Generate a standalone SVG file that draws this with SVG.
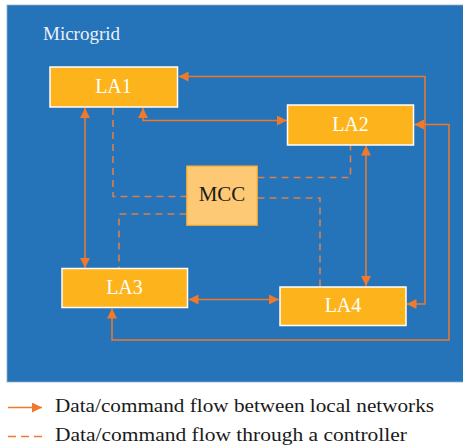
<svg xmlns="http://www.w3.org/2000/svg" width="463" height="447" viewBox="0 0 463 447">
<style>
.la{fill:#FDB41C;stroke:#FFFFFF;stroke-width:1.5}
.mcc{fill:#FEC974;stroke:#EEA832;stroke-width:1.2}
text{font-family:"Liberation Serif","Times New Roman","DejaVu Serif",serif}
.lt{font-size:20px;fill:#FFFFFF;text-anchor:middle}
.mt{font-size:21px;fill:#1A1A1A;text-anchor:middle}
.sol{fill:none;stroke:#F07A2C;stroke-width:1.5}
.das{fill:none;stroke:#D9804C;stroke-width:1.6;stroke-dasharray:7,5}
.leg{font-size:19px;fill:#1A1A1A}
</style>
<defs>
<marker id="ah" viewBox="0 0 10 10" refX="10" refY="5" markerWidth="10" markerHeight="10" markerUnits="userSpaceOnUse" orient="auto-start-reverse">
<path d="M0,0 L10,5 L0,10 z" fill="#F07A2C"/>
</marker>
</defs>
<rect x="0" y="0" width="463" height="447" fill="#FFFFFF"/>
<rect id="microgrid" x="7" y="5" width="457" height="377" fill="#2573B8" stroke="#8FB0D0" stroke-width="0.8"/>
<text x="43" y="40" font-size="19" fill="#EAF1F8">Microgrid</text>
<g id="connectors">
<path class="sol" d="M85,108 V268" marker-start="url(#ah)" marker-end="url(#ah)"/>
<path class="sol" d="M143,108 V120.5 H287" marker-start="url(#ah)" marker-end="url(#ah)"/>
<path class="sol" d="M366,145.5 V286" marker-start="url(#ah)" marker-end="url(#ah)"/>
<path class="sol" d="M188.5,299.5 H279" marker-start="url(#ah)" marker-end="url(#ah)"/>
<path class="sol" d="M178.5,76.5 H425 V304 H406.5" marker-start="url(#ah)" marker-end="url(#ah)"/>
<path class="sol" d="M414,124.5 H449 V340 H112 V308.5" marker-start="url(#ah)" marker-end="url(#ah)"/>
<path class="das" d="M113,108 V196.5 H186.5"/>
<path class="das" d="M257.5,177.5 H350.5 V145.5"/>
<path class="das" d="M257.5,198 H320 V286.5"/>
<path class="das" d="M186.5,214 H119 V268.5"/>
</g>
<g id="LA1"><rect class="la" x="50" y="67" width="127.5" height="40"/><text class="lt" x="113.5" y="92.5">LA1</text></g>
<g id="LA2"><rect class="la" x="287.5" y="105" width="126" height="40"/><text class="lt" x="350.5" y="130.5">LA2</text></g>
<g id="MCC"><rect class="mcc" x="186.7" y="166" width="70.6" height="59.3"/><text class="mt" x="222" y="201">MCC</text></g>
<g id="LA3"><rect class="la" x="62" y="268.5" width="125.5" height="39"/><text class="lt" x="124.5" y="294">LA3</text></g>
<g id="LA4"><rect class="la" x="280" y="287" width="126" height="38.5"/><text class="lt" x="343" y="312">LA4</text></g>
<g id="legend">
<path class="sol" d="M8,407.5 H42" marker-end="url(#ah)"/>
<text class="leg" x="55" y="412" textLength="379" lengthAdjust="spacingAndGlyphs">Data/command flow between local networks</text>
<path d="M8,436.5 H43" fill="none" stroke="#F07A2C" stroke-width="1.5" stroke-dasharray="8,5"/>
<text class="leg" x="55" y="441" textLength="352" lengthAdjust="spacingAndGlyphs">Data/command flow through a controller</text>
</g>
</svg>
